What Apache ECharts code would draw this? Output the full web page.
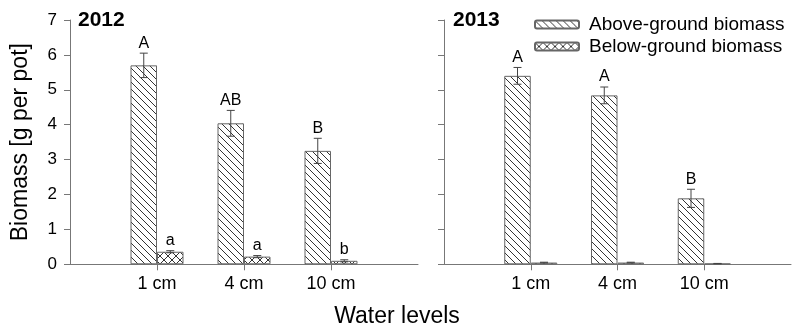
<!DOCTYPE html>
<html>
<head>
<meta charset="utf-8">
<script src="https://cdn.jsdelivr.net/npm/echarts@6/dist/echarts.min.js"></script>
<style>
  html, body { margin: 0; padding: 0; background: #fff; }
  #chart { width: 794px; height: 330px; }
</style>
</head>
<body>
<div id="chart"></div>
<script>
// water levels on the x axis (empty slots at both ends)
var categories = ['', '1 cm', '4 cm', '10 cm', ''];
var yTicks = [0, 1, 2, 3, 4, 5, 6, 7];

// 2012
var above2012 = [5.70, 4.04, 3.25];
var above2012Err = [0.35, 0.37, 0.36];
var above2012Letters = ['A', 'AB', 'B'];
var below2012 = [0.36, 0.22, 0.10];
var below2012Err = [0.03, 0.03, 0.03];
var below2012Letters = ['a', 'a', 'b'];

// 2013
var above2013 = [5.40, 4.84, 1.89];
var above2013Err = [0.24, 0.24, 0.26];
var above2013Letters = ['A', 'A', 'B'];
var below2013 = [0.05, 0.05, 0.02];
var below2013Err = [0.01, 0.01, 0.005];
var below2013Letters = ['', '', ''];

var FONT = '"Liberation Sans", Arial, sans-serif';
var BAR_W = 26.5;
var AXIS_COLOR = '#777';

// hatch patterns
function makePattern(size, cross) {
	var c = document.createElement('canvas');
	c.width = size;
	c.height = size;
	var ctx = c.getContext('2d');
	ctx.fillStyle = '#fff';
	ctx.fillRect(0, 0, size, size);
	ctx.strokeStyle = '#333';
	ctx.lineWidth = 1;
	ctx.beginPath();
	ctx.moveTo(-1, -1);
	ctx.lineTo(size + 1, size + 1);
	if (cross) {
		ctx.moveTo(size + 1, -1);
		ctx.lineTo(-1, size + 1);
	}
	ctx.stroke();
	return { image: c, repeat: 'repeat' };
}
var hatchAbove = makePattern(7, false);
var hatchBelow = makePattern(8, true);

function toBarData(vals) {
	// slots 1..3 hold the three water levels
	return ['-'].concat(vals).concat(['-']);
}
function toErrData(vals, errs) {
	var out = [];
	for (var i = 0; i < vals.length; i++) {
		out.push([i + 1, vals[i], errs[i]]);
	}
	return out;
}

// error bars + significance letters
function errRender(letters, side) {
	return function(params, api) {
		var idx = api.value(0);
		var v = api.value(1);
		var e = api.value(2);
		var x = api.coord([idx, v])[0] + side * BAR_W / 2;
		var top = api.coord([idx, v + e])[1];
		var bot = api.coord([idx, v - e])[1];
		var cap = 4;
		var style = { stroke: '#444', lineWidth: 1 };
		return {
			type: 'group',
			children: [
				{ type: 'line', shape: { x1: x, y1: top, x2: x, y2: bot }, style: style },
				{ type: 'line', shape: { x1: x - cap, y1: top, x2: x + cap, y2: top }, style: style },
				{ type: 'line', shape: { x1: x - cap, y1: bot, x2: x + cap, y2: bot }, style: style },
				{
					type: 'text',
					style: {
						text: letters[params.dataIndex],
						x: x,
						y: top - 2,
						align: 'center',
						verticalAlign: 'bottom',
						fill: '#000',
						font: '16px ' + FONT
					}
				}
			]
		};
	};
}

function xAxisFor(gridIndex) {
	return {
		type: 'category',
		gridIndex: gridIndex,
		data: categories,
		boundaryGap: false,
		axisLine: { lineStyle: { color: AXIS_COLOR, width: 1 } },
		axisTick: {
			show: true,
			length: 6,
			interval: function(i) { return i > 0 && i < 4; },
			lineStyle: { color: AXIS_COLOR }
		},
		axisLabel: {
			interval: 0,
			margin: 11,
			color: '#000',
			fontSize: 18,
			fontFamily: FONT
		},
		splitLine: { show: false }
	};
}
function yAxisFor(gridIndex, showLabels) {
	var ax = {
		type: 'value',
		gridIndex: gridIndex,
		min: yTicks[0],
		max: yTicks[yTicks.length - 1],
		interval: 1,
		axisLine: { show: true, lineStyle: { color: AXIS_COLOR, width: 1 } },
		axisTick: { show: true, length: 6, lineStyle: { color: AXIS_COLOR } },
		axisLabel: {
			show: showLabels,
			margin: 13,
			color: '#000',
			fontSize: 17,
			fontFamily: FONT
		},
		splitLine: { show: false }
	};
	if (showLabels) {
		ax.name = 'Biomass [g per pot]';
		ax.nameLocation = 'middle';
		ax.nameGap = 38;
		ax.nameTextStyle = { color: '#000', fontSize: 23, fontFamily: FONT };
	}
	return ax;
}

function barSeries(name, idx, vals, pattern) {
	return {
		name: name,
		type: 'bar',
		xAxisIndex: idx,
		yAxisIndex: idx,
		barWidth: BAR_W,
		barGap: '0%',
		data: toBarData(vals),
		itemStyle: { color: pattern, borderColor: '#666', borderWidth: 1 }
	};
}
function errSeries(name, idx, vals, errs, letters, side) {
	return {
		name: name,
		type: 'custom',
		xAxisIndex: idx,
		yAxisIndex: idx,
		z: 5,
		silent: true,
		data: toErrData(vals, errs),
		encode: { x: 0, y: 1 },
		renderItem: errRender(letters, side)
	};
}

var chart = echarts.init(document.getElementById('chart'), null, { renderer: 'canvas' });
chart.setOption({
	animation: false,
	backgroundColor: '#fff',
	textStyle: { fontFamily: FONT },
	title: [
		{ text: '2012', left: 73, top: 5, textStyle: { fontSize: 21, fontWeight: 'bold', color: '#000', fontFamily: FONT } },
		{ text: '2013', left: 448, top: 5, textStyle: { fontSize: 21, fontWeight: 'bold', color: '#000', fontFamily: FONT } },
		{ text: 'Water levels', left: 'center', top: 300, textStyle: { fontSize: 23, fontWeight: 'normal', color: '#000', fontFamily: FONT } }
	],
	legend: {
		data: ['Above-ground biomass', 'Below-ground biomass'],
		orient: 'vertical',
		left: 529,
		top: 10,
		itemWidth: 44,
		itemHeight: 8,
		itemGap: 3,
		selectedMode: false,
		textStyle: { fontSize: 19, color: '#000', fontFamily: FONT, padding: [0, 0, 0, 5] }
	},
	grid: [
		{ left: 70, width: 348, top: 20, bottom: 65.7 },
		{ left: 444, width: 348, top: 20, bottom: 65.7 }
	],
	xAxis: [xAxisFor(0), xAxisFor(1)],
	yAxis: [yAxisFor(0, true), yAxisFor(1, false)],
	series: [
		barSeries('Above-ground biomass', 0, above2012, hatchAbove),
		barSeries('Below-ground biomass', 0, below2012, hatchBelow),
		barSeries('Above-ground biomass', 1, above2013, hatchAbove),
		barSeries('Below-ground biomass', 1, below2013, hatchBelow),
		errSeries('err-a-2012', 0, above2012, above2012Err, above2012Letters, -1),
		errSeries('err-b-2012', 0, below2012, below2012Err, below2012Letters, 1),
		errSeries('err-a-2013', 1, above2013, above2013Err, above2013Letters, -1),
		errSeries('err-b-2013', 1, below2013, below2013Err, below2013Letters, 1)
	]
});
</script>
</body>
</html>
